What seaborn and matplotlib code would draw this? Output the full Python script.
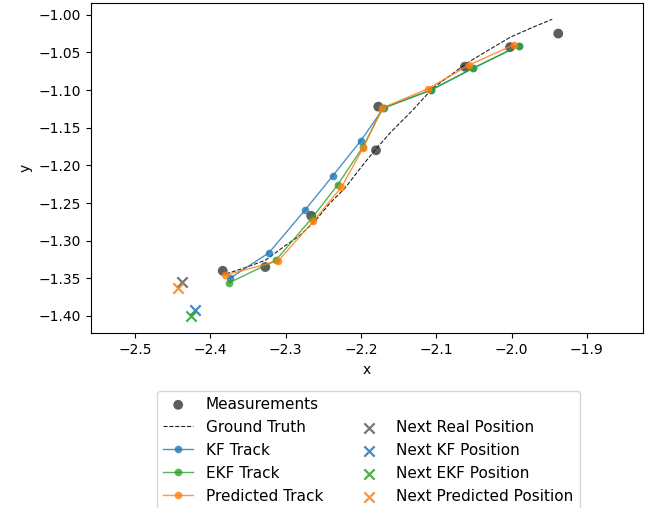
import matplotlib
matplotlib.use("Agg")
import matplotlib.pyplot as plt
from matplotlib.lines import Line2D
import seaborn as sns
import pandas as pd

# Measurements
meas_x = [-2.3835, -2.327, -2.266, -2.180, -2.177, -2.062, -2.002, -1.938]
meas_y = [-1.340, -1.335, -1.267, -1.180, -1.122, -1.069, -1.043, -1.025]

# Ground truth
gt_x = [-2.379, -2.354, -2.327, -2.301, -2.281, -2.261, -2.241, -2.221, -2.201,
        -2.180, -2.159, -2.135, -2.104, -2.082, -2.059, -2.029, -2.002, -1.975, -1.946]
gt_y = [-1.344, -1.336, -1.326, -1.307, -1.293, -1.274, -1.250, -1.230, -1.204,
        -1.178, -1.1545, -1.1305, -1.097, -1.081, -1.064, -1.046, -1.030, -1.018, -1.006]

# KF track
kf_x = [-2.374, -2.322, -2.274, -2.2375, -2.200, -2.170, -2.107, -2.051, -1.990]
kf_y = [-1.350, -1.316, -1.259, -1.214, -1.167, -1.124, -1.100, -1.071, -1.041]

# EKF track
ekf_x = [-2.3752, -2.313, -2.265, -2.231, -2.197, -2.171, -2.107, -2.051, -1.990]
ekf_y = [-1.356, -1.326, -1.270, -1.226, -1.175, -1.124, -1.100, -1.071, -1.041]

# Predicted track
pred_x = [-2.381, -2.310, -2.263, -2.226, -2.197, -2.172, -2.1105, -2.057, -1.997]
pred_y = [-1.346, -1.327, -1.274, -1.229, -1.177, -1.124, -1.098, -1.067, -1.040]

# Next positions
next_labels = ["Next Real Position", "Next KF Position", "Next EKF Position", "Next Predicted Position"]
next_x = [-2.437, -2.420, -2.426, -2.4425]
next_y = [-1.355, -1.392, -1.400, -1.3625]

C_MEAS = "#5e5e5e"
C_BLUE = "#1f77b4"
C_GREEN = "#2ca02c"
C_ORANGE = "#ff7f0e"
next_colors = ["#5e5e5e", C_BLUE, C_GREEN, C_ORANGE]

fig = plt.figure(figsize=(6.55, 5.08), dpi=100)
ax = fig.add_axes([0.1385, 0.3439, 0.982 - 0.1385, 0.9947 - 0.3439])

sns.scatterplot(x=meas_x, y=meas_y, color=C_MEAS, s=50, edgecolor="none",
                label="Measurements", ax=ax, zorder=2)
sns.lineplot(x=gt_x, y=gt_y, sort=False, estimator=None, color="#222222",
             linestyle="--", linewidth=0.8, label="Ground Truth", ax=ax, zorder=2)

for xs, ys, c, lab in [(kf_x, kf_y, C_BLUE, "KF Track"),
                       (ekf_x, ekf_y, C_GREEN, "EKF Track"),
                       (pred_x, pred_y, C_ORANGE, "Predicted Track")]:
    sns.lineplot(x=xs, y=ys, sort=False, estimator=None, color=c, alpha=0.8,
                 linewidth=1.0, marker="o", markersize=5.5, markeredgewidth=0,
                 label=lab, ax=ax, zorder=3)

for xv, yv, c, lab in zip(next_x, next_y, next_colors, next_labels):
    sns.scatterplot(x=[xv], y=[yv], color=c, marker="x", s=55, linewidth=1.6,
                    alpha=0.85, label=lab, ax=ax, zorder=4)

ax.set_xlim(-2.5588, -1.8252)
ax.set_ylim(-1.423, -0.984)
ax.set_xticks([-2.5, -2.4, -2.3, -2.2, -2.1, -2.0, -1.9])
ax.set_yticks([-1.40, -1.35, -1.30, -1.25, -1.20, -1.15, -1.10, -1.05, -1.00])
ax.set_yticklabels([f"{v:.2f}".replace("-", "\u2212") for v in
                    [-1.40, -1.35, -1.30, -1.25, -1.20, -1.15, -1.10, -1.05, -1.00]])
ax.set_xlabel("x")
ax.set_ylabel("y")

handles, labels = ax.get_legend_handles_labels()
lm = dict(zip(labels, handles))
blank = Line2D([], [], linestyle="none", marker=None)
order = ["Measurements", "Ground Truth", "KF Track", "EKF Track", "Predicted Track"]
hs = [lm[k] for k in order] + [blank] + [lm[k] for k in next_labels]
ls = order + [""] + next_labels
ax.legend(hs, ls, ncol=2, loc="upper center", fontsize=11, borderaxespad=0,
          labelspacing=0.52,
          bbox_to_anchor=(368.3 / 655, 1 - 390.7 / 508),
          bbox_transform=fig.transFigure)

fig.savefig("out.png", dpi=100)
